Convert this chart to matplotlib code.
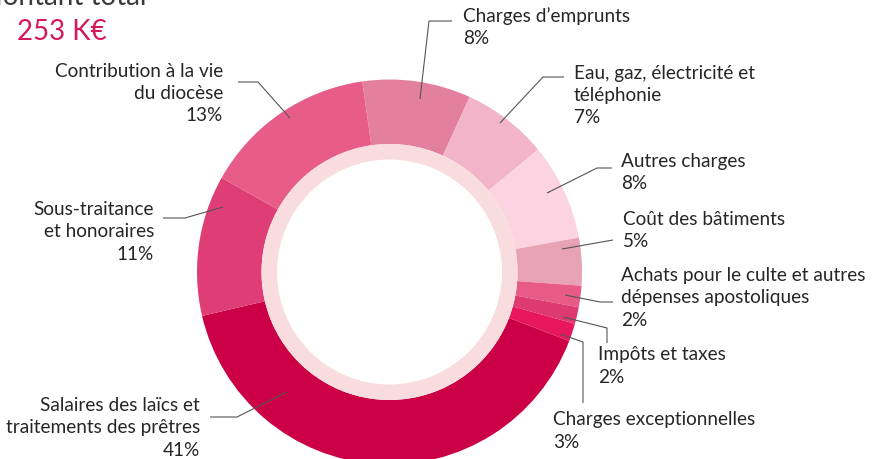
import matplotlib
matplotlib.use("Agg")
import matplotlib.pyplot as plt

plt.rcParams['font.family'] = ['Lato', 'DejaVu Sans']

W, H = 878, 459

#-----Data-------------------------------------------------------------------
categories = [
    "Charges d\u2019emprunts",
    "Eau, gaz, électricité et\ntéléphonie",
    "Autres charges",
    "Coût des bâtiments",
    "Achats pour le culte et autres\ndépenses apostoliques",
    "Impôts et taxes",
    "Charges exceptionnelles",
    "Salaires des laïcs et\ntraitements des prêtres",
    "Sous-traitance\net honoraires",
    "Contribution à la vie\ndu diocèse",
]
# arc sizes as drawn, and percentages as printed
shares = [9.1, 7.2, 8.1, 4.0, 1.8, 1.4, 1.5, 40.5, 11.8, 14.6]
pct_labels = ["8%", "7%", "8%", "5%", "2%", "2%", "3%", "41%", "11%", "13%"]
total_label = "253 K€"

colors = ['#e4809f', '#f1b4c8', '#fcd3e0', '#e8a2b6', '#e85a88',
          '#dd3a72', '#e8175d', '#cc0047', '#de3e75', '#e75c89']

#-----Layout (pixel coords, y from top)-----------------------------------
cx, cy = 389.5, 272
r_out, r_in, r_pale = 192.5, 128, 112.5

# text anchor x, block centre y, alignment
text_pos = [(463, 27, 'left'), (574, 95.5, 'left'), (621, 172.5, 'left'),
            (623, 230.5, 'left'), (621, 298, 'left'), (598, 366, 'left'),
            (553, 431, 'left'), (200, 428, 'right'), (154, 232, 'right'),
            (223, 93.5, 'right')]
leaders = [
    [(420, 99), (429, 21), (452, 21)],
    [(500, 123), (543, 77), (564, 77)],
    [(547, 193), (597, 168), (612, 168)],
    [(562, 249), (613, 240)],
    [(565, 295), (600, 302), (613, 302)],
    [(563, 317), (607, 328), (607, 343)],
    [(560, 334), (583, 342), (583, 403)],
    [(287, 392), (237, 417), (210, 417)],
    [(223, 207), (185, 218), (163, 218)],
    [(290, 118), (258, 82), (238, 82)],
]

fig = plt.figure(figsize=(W / 100, H / 100), dpi=100)
ax = fig.add_axes([0, 0, 1, 1])

#-----Donut------------------------------------------------------------------
ax.pie(shares, colors=colors, radius=r_out, center=(cx, H - cy),
       startangle=98.15, counterclock=False,
       wedgeprops=dict(width=r_out - r_in, linewidth=0))
ax.pie([1], colors=['#f9dcdd'], radius=r_in, center=(cx, H - cy),
       wedgeprops=dict(width=r_in - r_pale, linewidth=0))

ax.set_xlim(0, W)
ax.set_ylim(0, H)
ax.set_aspect('equal')
ax.axis('off')

#-----Labels and leader lines----------------------------------------------
for cat, pct, (tx, ty, ha), pts in zip(categories, pct_labels, text_pos, leaders):
    ax.text(tx, H - ty, cat + "\n" + pct, ha=ha, va='center', fontsize=13.7,
            color='#262626', linespacing=1.36, multialignment=ha)
    xs = [p[0] for p in pts]
    ys = [H - p[1] for p in pts]
    ax.plot(xs, ys, color='#555555', lw=0.8, solid_capstyle='butt')

#-----Title------------------------------------------------------------------
ax.text(62, H - 5, "Montant total", ha='center', va='baseline',
        fontsize=20, color='#3a3a3a')
ax.text(62, H - 40, total_label, ha='center', va='baseline',
        fontsize=20, color='#d6175a')

fig.savefig('out.png', dpi=100)
